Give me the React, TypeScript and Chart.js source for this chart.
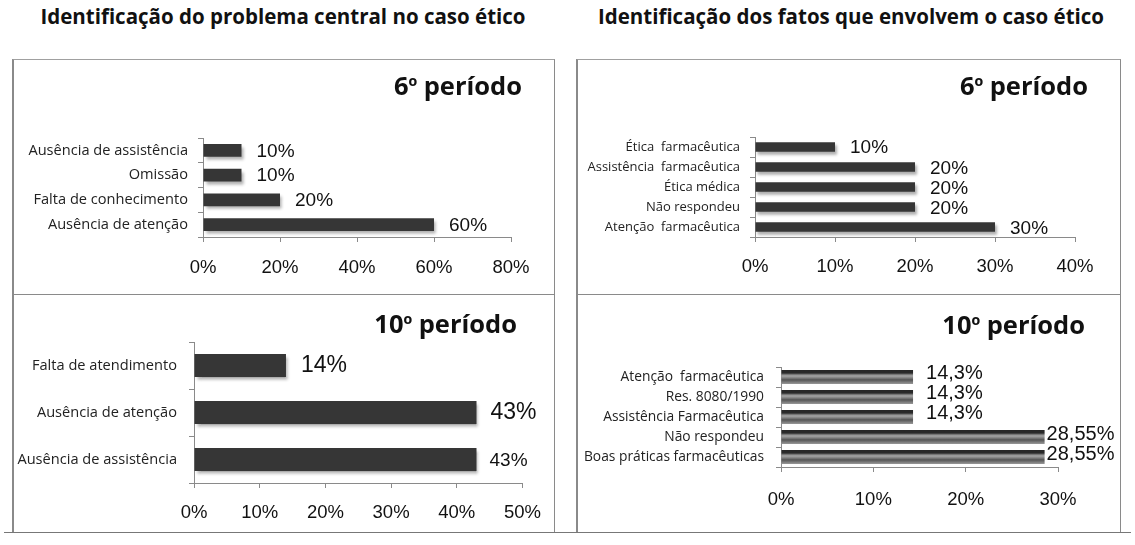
import React, { useEffect, useRef } from 'react';
import { Chart, registerables } from 'chart.js';

Chart.register(...registerables);

// ---------- data ----------
const problemTitle = 'Identificação do problema central no caso ético';
const factsTitle = 'Identificação dos fatos que envolvem o caso ético';
const period6 = '6º período';
const period10 = '10º período';

const problem6Labels = ['Ausência de assistência', 'Omissão', 'Falta de conhecimento', 'Ausência de atenção'];
const problem6Values = [10, 10, 20, 60];
const problem6Ticks = [0, 20, 40, 60, 80];

const problem10Labels = ['Falta de atendimento', 'Ausência de atenção', 'Ausência de assistência'];
const problem10Values = [14, 43, 43];
const problem10Ticks = [0, 10, 20, 30, 40, 50];

const facts6Labels = ['Ética  farmacêutica', 'Assistência  farmacêutica', 'Ética médica', 'Não respondeu', 'Atenção  farmacêutica'];
const facts6Values = [10, 20, 20, 20, 30];
const facts6Ticks = [0, 10, 20, 30, 40];

const facts10Labels = ['Atenção  farmacêutica', 'Res. 8080/1990', 'Assistência Farmacêutica', 'Não respondeu', 'Boas práticas farmacêuticas'];
const facts10Values = [14.3, 14.3, 14.3, 28.55, 28.55];
const facts10Ticks = [0, 10, 20, 30];

const fmtPct = (v: number) => String(v).replace('.', ',') + '%';

// ---------- layout / style ----------
type Panel = {
  key: string;
  labels: string[];
  values: number[];
  ticks: number[];
  period: string;
  box: { x: number; y: number; w: number; h: number };
  area: { left: number; top: number; right: number; bottom: number };
  periodRight: number;
  periodCy: number;
  barPct: number;
  yFont: number;
  labelSizes: number[];
  labelDx: number[];
  labelDy: number[];
  yPad: number;
  xPad: number;
  shadow: boolean;
  striped: boolean;
};

const panels: Panel[] = [
  {
    key: 'p6', labels: problem6Labels, values: problem6Values, ticks: problem6Ticks, period: period6,
    box: { x: 12, y: 59, w: 543, h: 236 },
    area: { left: 203, top: 138, right: 511, bottom: 237 },
    periodRight: 522, periodCy: 86,
    barPct: 0.52, yFont: 14.6, labelSizes: [19, 19, 19, 19], labelDx: [15, 15, 15, 15], labelDy: [1, 1, 1, 1],
    yPad: 10, xPad: 15, shadow: true, striped: false,
  },
  {
    key: 'p10', labels: problem10Labels, values: problem10Values, ticks: problem10Ticks, period: period10,
    box: { x: 12, y: 295, w: 543, h: 238 },
    area: { left: 194, top: 342, right: 523, bottom: 483 },
    periodRight: 517, periodCy: 324,
    barPct: 0.49, yFont: 14.6, labelSizes: [23, 23, 19], labelDx: [15, 14, 13], labelDy: [0, 0, 1],
    yPad: 12, xPad: 14, shadow: true, striped: false,
  },
  {
    key: 'f6', labels: facts6Labels, values: facts6Values, ticks: facts6Ticks, period: period6,
    box: { x: 576, y: 59, w: 544, h: 236 },
    area: { left: 755, top: 137, right: 1075, bottom: 237 },
    periodRight: 1088, periodCy: 86,
    barPct: 0.48, yFont: 13, labelSizes: [19, 19, 19, 19, 19], labelDx: [15, 15, 15, 15, 15], labelDy: [1, 2, 2, 2, 2],
    yPad: 10, xPad: 14, shadow: true, striped: false,
  },
  {
    key: 'f10', labels: facts10Labels, values: facts10Values, ticks: facts10Ticks, period: period10,
    box: { x: 576, y: 295, w: 544, h: 238 },
    area: { left: 781, top: 367, right: 1058, bottom: 467 },
    periodRight: 1085, periodCy: 325,
    barPct: 0.7, yFont: 13.8, labelSizes: [20, 20, 20, 20, 20], labelDx: [13, 13, 13, 2, 2], labelDy: [-4, -4, -4, -3, -3],
    yPad: 12, xPad: 17, shadow: false, striped: true,
  },
];

const barDecor = {
  id: 'barDecor',
  beforeDatasetsDraw(chart: any, _args: any, opts: any) {
    const ctx = chart.ctx;
    ctx.save();
    if (opts.shadow) {
      ctx.shadowColor = 'rgba(0,0,0,0.32)';
      ctx.shadowBlur = 3;
      ctx.shadowOffsetX = 2;
      ctx.shadowOffsetY = 3;
    }
  },
  afterDatasetsDraw(chart: any, _args: any, opts: any) {
    const ctx = chart.ctx;
    ctx.restore();
    const meta = chart.getDatasetMeta(0);
    const data = chart.data.datasets[0].data as number[];
    ctx.save();
    ctx.fillStyle = '#111';
    ctx.textBaseline = 'middle';
    ctx.textAlign = 'left';
    meta.data.forEach((el: any, i: number) => {
      ctx.font = `${opts.sizes[i]}px "Liberation Sans", Arial, sans-serif`;
      ctx.fillText(fmtPct(data[i]), el.x + opts.dx[i], el.y + opts.dy[i]);
    });
    ctx.restore();
  },
};

function makeStripe(barPct: number) {
  return (c: any) => {
    const chart = c.chart;
    const ys = chart.scales && chart.scales.y;
    if (!ys || c.dataIndex === undefined || !isFinite(ys.height)) return '#555';
    const n = chart.data.labels.length;
    const center = ys.getPixelForValue(c.dataIndex);
    const half = (ys.height / n) * barPct / 2;
    const g = chart.ctx.createLinearGradient(0, center - half, 0, center + half);
    g.addColorStop(0, '#262626');
    g.addColorStop(0.22, '#2a2a2a');
    g.addColorStop(0.3, '#6a6a6a');
    g.addColorStop(0.42, '#a6a6a6');
    g.addColorStop(0.55, '#858585');
    g.addColorStop(0.7, '#555555');
    g.addColorStop(0.85, '#777777');
    g.addColorStop(1, '#999999');
    return g;
  };
}

function PeriodText({ text }: { text: string }) {
  const parts = text.split('º');
  return (
    <>
      {parts[0]}
      <span style={{ fontFamily: '"Liberation Sans", Arial, sans-serif', fontSize: '0.92em' }}>º</span>
      {parts.slice(1).join('º')}
    </>
  );
}

function BarPanel({ p }: { p: Panel }) {
  const ref = useRef<HTMLCanvasElement>(null);
  useEffect(() => {
    if (!ref.current) return;
    const yAxisWidth = p.area.left - p.box.x;
    const padTop = p.area.top - p.box.y;
    const padRight = p.box.x + p.box.w - p.area.right;
    const xAxisHeight = p.box.y + p.box.h - p.area.bottom;
    const step = p.ticks[1] - p.ticks[0];
    const axisColor = '#8a8a8a';
    const chart = new Chart(ref.current, {
      type: 'bar',
      data: {
        labels: p.labels,
        datasets: [
          {
            data: p.values,
            backgroundColor: p.striped ? makeStripe(p.barPct) : '#363636',
            borderWidth: 0,
            barPercentage: p.barPct,
            categoryPercentage: 1,
          },
        ],
      },
      options: {
        indexAxis: 'y',
        animation: false,
        responsive: false,
        maintainAspectRatio: false,
        layout: { padding: { left: 0, top: padTop, right: padRight, bottom: 0 } },
        plugins: {
          legend: { display: false },
          tooltip: { enabled: false },
          title: { display: false },
          barDecor: { sizes: p.labelSizes, dx: p.labelDx, dy: p.labelDy, shadow: p.shadow },
        } as any,
        scales: {
          x: {
            type: 'linear',
            min: p.ticks[0],
            max: p.ticks[p.ticks.length - 1],
            ticks: {
              stepSize: step,
              callback: (v: any) => v + '%',
              color: '#111',
              font: { family: '"Liberation Sans", Arial, sans-serif', size: 18.5 },
              padding: p.xPad,
              maxRotation: 0,
              autoSkip: false,
            },
            grid: { display: true, drawOnChartArea: false, drawTicks: true, tickLength: 5, color: axisColor, lineWidth: 1 },
            border: { display: true, color: axisColor, width: 1 },
            afterFit: (s: any) => { s.height = xAxisHeight; },
          },
          y: {
            type: 'category',
            ticks: {
              color: '#222',
              font: { family: '"Open Sans", "Noto Sans", sans-serif', size: p.yFont },
              padding: p.yPad,
              autoSkip: false,
            },
            grid: { display: true, drawOnChartArea: false, drawTicks: true, tickLength: 5, color: axisColor, lineWidth: 1, offset: true },
            border: { display: true, color: axisColor, width: 1 },
            afterFit: (s: any) => { s.width = yAxisWidth; },
          },
        },
      },
      plugins: [barDecor as any],
    });
    return () => chart.destroy();
  }, [p]);

  return (
    <>
      <canvas
        ref={ref}
        width={p.box.w}
        height={p.box.h}
        style={{ position: 'absolute', left: p.box.x, top: p.box.y, width: p.box.w, height: p.box.h }}
      />
      <div
        style={{
          position: 'absolute',
          right: 1135 - p.periodRight,
          top: p.periodCy - 16,
          font: 'bold 25.5px "Open Sans", "Noto Sans", sans-serif',
          lineHeight: '30px',
          color: '#111',
          whiteSpace: 'nowrap',
        }}
      >
        <PeriodText text={p.period} />
      </div>
    </>
  );
}

export default function App() {
  const line = '#8a8a8a';
  const titleStyle = (cx: number): React.CSSProperties => ({
    position: 'absolute',
    left: cx - 300,
    width: 600,
    top: 2,
    textAlign: 'center',
    font: 'bold 20.5px "Open Sans", "Noto Sans", sans-serif',
    lineHeight: '28px',
    color: '#111',
    whiteSpace: 'nowrap',
  });
  return (
    <div style={{ position: 'fixed', left: 0, top: 0, width: 1135, height: 545, background: '#fff', overflow: 'hidden' }}>
      <div style={titleStyle(283)}>{problemTitle}</div>
      <div style={titleStyle(851)}>{factsTitle}</div>
      {panels.map((p) => (
        <BarPanel key={p.key} p={p} />
      ))}
      {/* frames */}
      <div style={{ position: 'absolute', left: 12, top: 59, width: 543, height: 474, borderLeft: `2px solid ${line}`, borderRight: `1.5px solid ${line}`, borderTop: `1.5px solid #a0a0a0`, boxSizing: 'border-box', pointerEvents: 'none' }} />
      <div style={{ position: 'absolute', left: 576, top: 59, width: 545, height: 474, borderLeft: `2px solid ${line}`, borderRight: `1.5px solid ${line}`, borderTop: `1.5px solid #a0a0a0`, boxSizing: 'border-box', pointerEvents: 'none' }} />
      <div style={{ position: 'absolute', left: 12, top: 294, width: 543, height: 0, borderTop: `1.5px solid ${line}` }} />
      <div style={{ position: 'absolute', left: 576, top: 294, width: 545, height: 0, borderTop: `1.5px solid ${line}` }} />
      <div style={{ position: 'absolute', left: 4, top: 532, width: 1127, height: 0, borderTop: `1.5px solid #777` }} />
    </div>
  );
}
